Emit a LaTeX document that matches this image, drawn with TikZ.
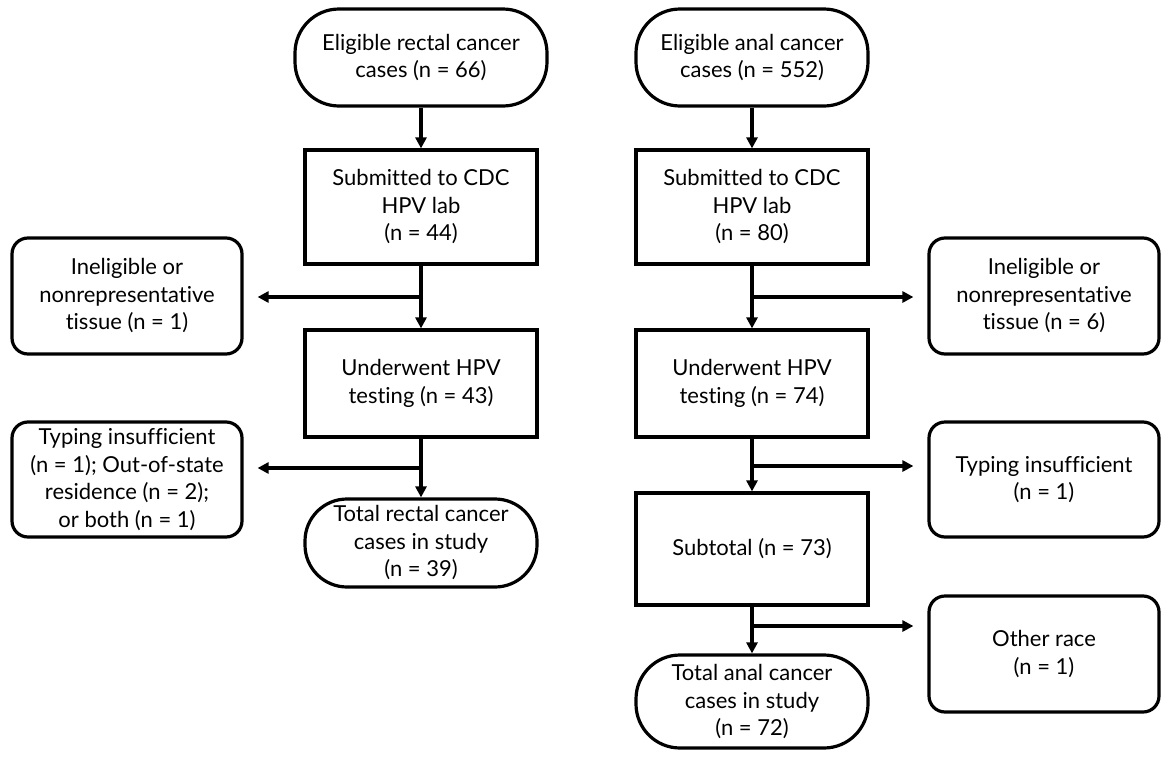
\documentclass[tikz,border=0pt]{standalone}
\usepackage{fontspec}
\setmainfont{Lato}[Ligatures={NoCommon,NoContextual,NoRequired,NoRare},Contextuals=NoAlternate]
\usetikzlibrary{arrows.meta,positioning}
\begin{document}
\begin{tikzpicture}[x=1pt,y=-1pt,
  every node/.style={font=\fontsize{22}{27.5}\selectfont, align=center, inner sep=0pt},
  boxstyle/.style={draw, line width=3.2pt, minimum width=232pt},
  sidestyle/.style={draw, line width=3.2pt, rounded corners=16pt, minimum width=230pt, minimum height=116pt},
  stadstyle/.style={draw, line width=3.2pt, rounded corners=44pt, minimum width=232pt},
  arr/.style={line width=3.2pt, -{Triangle[width=11pt,length=11pt]}},
  line/.style={line width=3.2pt}
]
\useasboundingbox (0,0) rectangle (1165,758);
% left column
\node[stadstyle, minimum width=252pt, minimum height=97pt] (stadL) at (421,57.5) {Eligible rectal cancer\\cases (n = 66)};
\node[boxstyle, minimum height=114pt] (subL) at (421,207) {Submit\kern0pt ted to CDC\\HPV lab\\(n = 44)};
\node[sidestyle] (ineL) at (127,296) {Ineligible or\\nonrepresentat\kern0pt ive\\tissue (n = 1)};
\node[boxstyle, minimum height=107pt] (undL) at (421,383.5) {Underwent HPV\\test\kern0pt ing (n = 43)};
\node[sidestyle, minimum height=115pt] (typL) at (127,479.5) {Typing insufficient\\(n = 1); Out-of-state\\residence (n = 2);\\or both (n = 1)};
\node[stadstyle, minimum height=88pt, rounded corners=42pt] (totL) at (421,543) {Total rectal cancer\\cases in study\\(n = 39)};
% right column
\node[stadstyle, minimum height=97pt] (stadR) at (752,57.5) {Eligible anal cancer\\cases (n = 552)};
\node[boxstyle, minimum height=114pt] (subR) at (752,207) {Submit\kern0pt ted to CDC\\HPV lab\\(n = 80)};
\node[sidestyle] (ineR) at (1044,296) {Ineligible or\\nonrepresentat\kern0pt ive\\tissue (n = 6)};
\node[boxstyle, minimum height=107pt] (undR) at (752,383.5) {Underwent HPV\\test\kern0pt ing (n = 74)};
\node[sidestyle, minimum height=115pt] (typR) at (1044,479.5) {Typing insufficient\\(n = 1)};
\node[boxstyle, minimum height=112pt] (stR) at (752,549) {Subtotal (n = 73)};
\node[sidestyle] (othR) at (1044,654) {Other race\\(n = 1)};
\node[stadstyle, minimum height=93pt] (totR) at (752,701.5) {Total anal cancer\\cases in study\\(n = 72)};
% junctions
\coordinate (jL1) at (421,297);
\coordinate (jL2) at (421,468);
\coordinate (jR1) at (752,297);
\coordinate (jR2) at (752,466);
\coordinate (jR3) at (752,626);
% connectors left
\draw[arr, line width=4.5pt] (stadL) -- (subL);
\draw[arr] (subL) -- (undL);
\draw[arr, shorten >=14pt] (jL1) -- (jL1 -| ineL.east);
\draw[arr] (undL) -- (totL);
\draw[arr, shorten >=14pt] (jL2) -- (jL2 -| typL.east);
% connectors right
\draw[arr] (stadR) -- (subR);
\draw[arr] (subR) -- (undR);
\draw[arr, shorten >=14pt] (jR1) -- (jR1 -| ineR.west);
\draw[arr] (undR) -- (stR);
\draw[arr, shorten >=14pt] (jR2) -- (jR2 -| typR.west);
\draw[arr] (stR) -- (totR);
\draw[arr, shorten >=14pt] (jR3) -- (jR3 -| othR.west);
\end{tikzpicture}
\end{document}
